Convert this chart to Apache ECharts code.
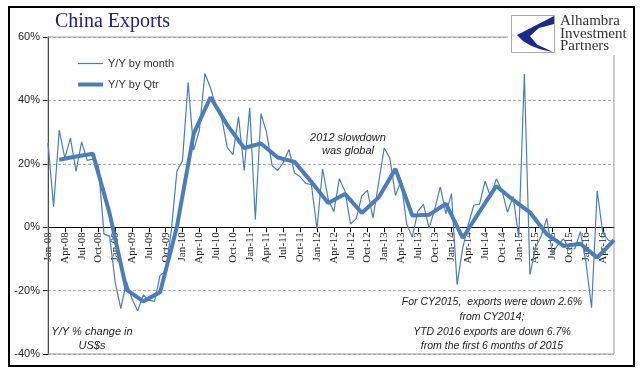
<!DOCTYPE html>
<html>
<head>
<meta charset="utf-8">
<script src="https://cdn.jsdelivr.net/npm/echarts@6/dist/echarts.min.js"></script>
<style>html,body{margin:0;padding:0;background:#fff}#c{width:641px;height:379px}</style>
</head>
<body>
<div id="c"></div>
<script>
// ---- data ----
var monthNames = ['Jan','Feb','Mar','Apr','May','Jun','Jul','Aug','Sep','Oct','Nov','Dec'];
var years = ['08','09','10','11','12','13','14','15','16'];
var m2008 = [26.6, 6.5, 30.6, 21.8, 28.1, 17.6, 26.9, 21.1, 21.5, 19.2, -2.2, -2.8];
var m2009 = [-17.5, -25.7, -17.1, -22.6, -26.4, -21.4, -23.0, -23.4, -15.2, -13.8, -1.2, 17.7];
var m2010 = [21.0, 45.7, 24.3, 30.5, 48.5, 43.9, 38.1, 34.4, 25.1, 22.9, 34.9, 17.9];
var m2011 = [37.7, 2.4, 35.8, 29.9, 19.4, 17.9, 20.4, 24.5, 17.1, 15.9, 13.8, 13.4];
var m2012 = [-0.5, 18.4, 8.9, 4.9, 15.3, 11.3, 1.0, 2.7, 9.9, 11.6, 2.9, 14.1];
var m2013 = [25.0, 21.8, 10.0, 14.7, 1.0, -3.1, 5.1, 7.2, -0.3, 5.6, 12.7, 4.3];
var m2014 = [10.6, -18.1, -6.6, 0.9, 7.0, 7.2, 14.5, 9.4, 15.3, 11.6, 4.7, 9.7];
var m2015 = [-3.3, 48.3, -15.0, -6.4, -2.8, 2.8, -8.3, -5.5, -3.7, -6.9, -6.8, -1.4];
var m2016 = [-11.2, -25.4, 11.5, -1.8, -4.1, -4.8];
// quarterly Y/Y (Q1-08 .. Q2-16), plotted at the last month of each quarter
var qtr = [21.3, 22.3, 23.2, 4.3, -19.7, -23.4, -20.5, 0.1,
           29.5, 41.0, 32.2, 25.0, 26.4, 22.0, 20.6, 14.3,
           7.6, 10.5, 4.5, 9.4, 18.4, 3.7, 3.9, 7.4,
           -3.4, 4.9, 13.0, 8.6, 4.7, -2.2, -5.9, -5.2,
           -9.6, -4.1];
var yTicks = [-40, -20, 0, 20, 40, 60];

// ---- build ----
var monthly = [].concat(m2008, m2009, m2010, m2011, m2012, m2013, m2014, m2015, m2016);
var categories = [];
for (var i = 0; i < monthly.length; i++) {
  categories.push(monthNames[i % 12] + '-' + years[Math.floor(i / 12)]);
}
var qtrSeries = monthly.map(function () { return null; });
qtr.forEach(function (v, k) { qtrSeries[k * 3 + 2] = v; });

var W = 641, H = 379;
var gridL = 48, gridR = 27, gridT = 37, gridB = 25;
var yMin = yTicks[0], yMax = yTicks[yTicks.length - 1];
var plotH = H - gridT - gridB;
// move the category axis up from the bottom edge to the 0% line
var zeroOffset = -plotH * (0 - yMin) / (yMax - yMin);

var blue = '#4a7ebb';
var legendText = {fontFamily: 'Liberation Sans', fontSize: 11, color: '#333'};
var chart = echarts.init(document.getElementById('c'), null, {renderer: 'canvas'});
chart.setOption({
  animation: false,
  backgroundColor: '#fff',
  grid: {left: gridL, right: gridR, top: gridT, bottom: gridB, show: true, borderColor: '#9a9a9a', borderWidth: 1, z: 3},
  legend: [
    {left: 73, top: 53, icon: 'rect', itemWidth: 25, itemHeight: 1.2, textStyle: legendText, data: ['Y/Y by month']},
    {left: 73, top: 74, icon: 'rect', itemWidth: 25, itemHeight: 4, textStyle: legendText, data: ['Y/Y by Qtr']}
  ],
  xAxis: {
    type: 'category', data: categories, boundaryGap: false,
    offset: zeroOffset,
    axisLine: {onZero: false, lineStyle: {color: '#000', width: 1}},
    axisTick: {show: true, interval: 2, length: 5, lineStyle: {color: '#000'}},
    axisLabel: {interval: 2, rotate: 90, margin: 5, fontFamily: 'Liberation Serif', fontSize: 11, color: '#222'},
    splitLine: {show: false}
  },
  yAxis: {
    type: 'value', min: yMin, max: yMax, interval: 20,
    axisLine: {show: true, onZero: false, lineStyle: {color: '#000'}},
    axisTick: {show: true, length: 5, lineStyle: {color: '#000'}},
    axisLabel: {formatter: '{value}%', margin: 8, fontFamily: 'Liberation Sans', fontSize: 11, color: '#222'},
    splitLine: {show: true, lineStyle: {color: '#b0b0b0', type: [3, 2], width: 1}}
  },
  series: [
    {name: 'Y/Y by month', type: 'line', data: monthly, symbol: 'none',
     lineStyle: {color: blue, width: 1.2}, itemStyle: {color: blue}, z: 4},
    {name: 'Y/Y by Qtr', type: 'line', data: qtrSeries, symbol: 'none', connectNulls: true,
     lineStyle: {color: blue, width: 4}, itemStyle: {color: blue}, z: 5}
  ],
  graphic: [
    {type: 'rect', shape: {x: 9, y: 7, width: 625, height: 359}, style: {fill: 'none', stroke: '#000', lineWidth: 2}, z: 100},
    {type: 'text', left: 55, top: 12, style: {text: 'China Exports', fontFamily: 'Liberation Serif', fontSize: 20, fill: '#22227a'}, z: 100},
    {type: 'rect', shape: {x: 508, y: 9, width: 118, height: 46}, style: {fill: '#fff'}, z: 100},
    {type: 'rect', shape: {x: 511.5, y: 15.5, width: 43, height: 37}, style: {fill: '#fff', stroke: '#aaa', lineWidth: 1}, z: 101},
    {type: 'polygon', shape: {points: [[554,16],[517,35],[523,40.9],[531,45.8],[541,49.4],[553,52],[537,44.5],[530,36],[539,28],[554,24]]}, style: {fill: '#1a2a8c'}, z: 102},
    {type: 'text', left: 560, top: 14, style: {text: 'Alhambra\nInvestment\nPartners', fontFamily: 'Liberation Serif', fontSize: 15, lineHeight: 12.5, fill: '#333'}, z: 102},
    {type: 'text', x: 348, y: 131, style: {text: '2012 slowdown\nwas global', textAlign: 'center', fontFamily: 'Liberation Sans', fontStyle: 'italic', fontSize: 11, lineHeight: 13, fill: '#222'}, z: 100},
    {type: 'text', x: 92, y: 325, style: {text: 'Y/Y % change in\nUS$s', textAlign: 'center', fontFamily: 'Liberation Sans', fontStyle: 'italic', fontSize: 11, lineHeight: 14, fill: '#222'}, z: 100},
    {type: 'text', x: 492, y: 295, style: {text: 'For CY2015,  exports were down 2.6%\nfrom CY2014;\nYTD 2016 exports are down 6.7%\nfrom the first 6 months of 2015', textAlign: 'center', fontFamily: 'Liberation Sans', fontStyle: 'italic', fontSize: 10.5, lineHeight: 14.7, fill: '#222'}, z: 100}
  ]
});
</script>
</body>
</html>
